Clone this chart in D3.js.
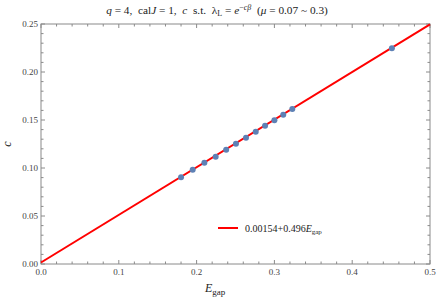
<!DOCTYPE html>
<html>
<head>
<meta charset="utf-8">
<script src="https://cdn.jsdelivr.net/npm/d3@7"></script>
<style>
body { margin: 0; background: #fff; }
text { font-family: "Liberation Serif", "DejaVu Serif", serif; white-space: pre; }
</style>
</head>
<body>
<div id="vis"></div>
<script>
const FRAME_WIDTH = 436;
const FRAME_HEIGHT = 304;
const MARGINS = {left: 41, right: 6, top: 24, bottom: 40};

// data
const egap = [0.180, 0.195, 0.210, 0.2245, 0.238, 0.2506, 0.2635, 0.276, 0.288, 0.300, 0.3114, 0.323, 0.451];
const cvals = [0.0903, 0.0982, 0.1055, 0.1118, 0.1191, 0.1253, 0.1316, 0.1378, 0.1441, 0.1497, 0.1555, 0.1615, 0.2247];
const fitA = 0.00154;
const fitB = 0.496;
const xTicks = [0, 0.1, 0.2, 0.3, 0.4, 0.5];
const yTicks = [0, 0.05, 0.10, 0.15, 0.20, 0.25];

const svg = d3.select("#vis").append("svg")
  .attr("width", FRAME_WIDTH)
  .attr("height", FRAME_HEIGHT);

const x = d3.scaleLinear().domain([0, 0.5]).range([MARGINS.left, FRAME_WIDTH - MARGINS.right]);
const y = d3.scaleLinear().domain([0, 0.25]).range([FRAME_HEIGHT - MARGINS.bottom, MARGINS.top]);

const gray = "#8a8a8a";
const txt = "#444";

// frame
svg.append("rect")
  .attr("x", x(0)).attr("y", y(0.25))
  .attr("width", x(0.5) - x(0)).attr("height", y(0) - y(0.25))
  .attr("fill", "none").attr("stroke", gray).attr("stroke-width", 1);

const xMinor = d3.range(0, 0.5001, 0.02);
const yMinor = d3.range(0, 0.2501, 0.01);

function isMajor(v, step) {
  return Math.abs(v / step - Math.round(v / step)) < 1e-6;
}

// ticks on all four sides
xMinor.forEach(function (v) {
  const len = isMajor(v, 0.1) ? 4 : 2.5;
  svg.append("line").attr("x1", x(v)).attr("x2", x(v))
    .attr("y1", y(0)).attr("y2", y(0) - len).attr("stroke", gray);
  svg.append("line").attr("x1", x(v)).attr("x2", x(v))
    .attr("y1", y(0.25)).attr("y2", y(0.25) + len).attr("stroke", gray);
});
yMinor.forEach(function (v) {
  const len = isMajor(v, 0.05) ? 4 : 2.5;
  svg.append("line").attr("y1", y(v)).attr("y2", y(v))
    .attr("x1", x(0)).attr("x2", x(0) + len).attr("stroke", gray);
  svg.append("line").attr("y1", y(v)).attr("y2", y(v))
    .attr("x1", x(0.5)).attr("x2", x(0.5) - len).attr("stroke", gray);
});

// tick labels
svg.selectAll(".xl").data(xTicks).enter().append("text")
  .attr("x", d => x(d)).attr("y", y(0) + 11)
  .attr("text-anchor", "middle").attr("font-size", 9).attr("fill", txt)
  .text(d => d3.format(".1f")(d));
svg.selectAll(".yl").data(yTicks).enter().append("text")
  .attr("x", x(0) - 3).attr("y", d => y(d) + 3)
  .attr("text-anchor", "end").attr("font-size", 9).attr("fill", txt)
  .text(d => d3.format(".2f")(d));

// fit line
svg.append("line")
  .attr("x1", x(0)).attr("y1", y(fitA))
  .attr("x2", x(0.5)).attr("y2", y(fitA + fitB * 0.5))
  .attr("stroke", "#ff0000").attr("stroke-width", 2);

// points
svg.selectAll(".pt").data(egap).enter().append("circle")
  .attr("cx", d => x(d)).attr("cy", (d, i) => y(cvals[i]))
  .attr("r", 3).attr("fill", "#5e81b5");

// legend
svg.append("line").attr("x1", 218).attr("x2", 238).attr("y1", 228).attr("y2", 228)
  .attr("stroke", "#ff0000").attr("stroke-width", 2);
const leg = svg.append("text").attr("x", 245).attr("y", 231.5).attr("font-size", 10).attr("fill", "#222");
leg.append("tspan").text(fitA + "+" + fitB);
leg.append("tspan").attr("font-style", "italic").text("E");
leg.append("tspan").attr("font-size", 7).attr("dy", 2).text("gap");

// axis labels
const xl = svg.append("text").attr("x", 205).attr("y", 292).attr("font-size", 12).attr("fill", "#222");
xl.append("tspan").attr("font-style", "italic").text("E");
xl.append("tspan").attr("font-size", 9).attr("dy", 3).text("gap");

svg.append("text").attr("transform", "translate(11," + 144 + ") rotate(-90)")
  .attr("text-anchor", "middle").attr("font-size", 12).attr("font-style", "italic").attr("fill", "#222")
  .text("c");

// title
const t = svg.append("text").attr("x", 217).attr("y", 14).attr("text-anchor", "middle")
  .attr("font-size", 11.3).attr("fill", "#222");
t.append("tspan").attr("font-style", "italic").text("q");
t.append("tspan").text(" = 4,  cal");
t.append("tspan").attr("font-style", "italic").text("J");
t.append("tspan").text(" = 1,  ");
t.append("tspan").attr("font-style", "italic").text("c");
t.append("tspan").text("  s.t.  λ");
t.append("tspan").attr("font-size", 8).attr("dy", 2).text("L");
t.append("tspan").attr("dy", -2).text(" = ");
t.append("tspan").attr("font-style", "italic").text("e");
t.append("tspan").attr("font-size", 8).attr("dy", -4).text("−");
t.append("tspan").attr("font-size", 8).attr("font-style", "italic").text("cβ");
t.append("tspan").attr("dy", 4).text("  (");
t.append("tspan").attr("font-style", "italic").text("μ");
t.append("tspan").text(" = 0.07 ~ 0.3)");
</script>
</body>
</html>
